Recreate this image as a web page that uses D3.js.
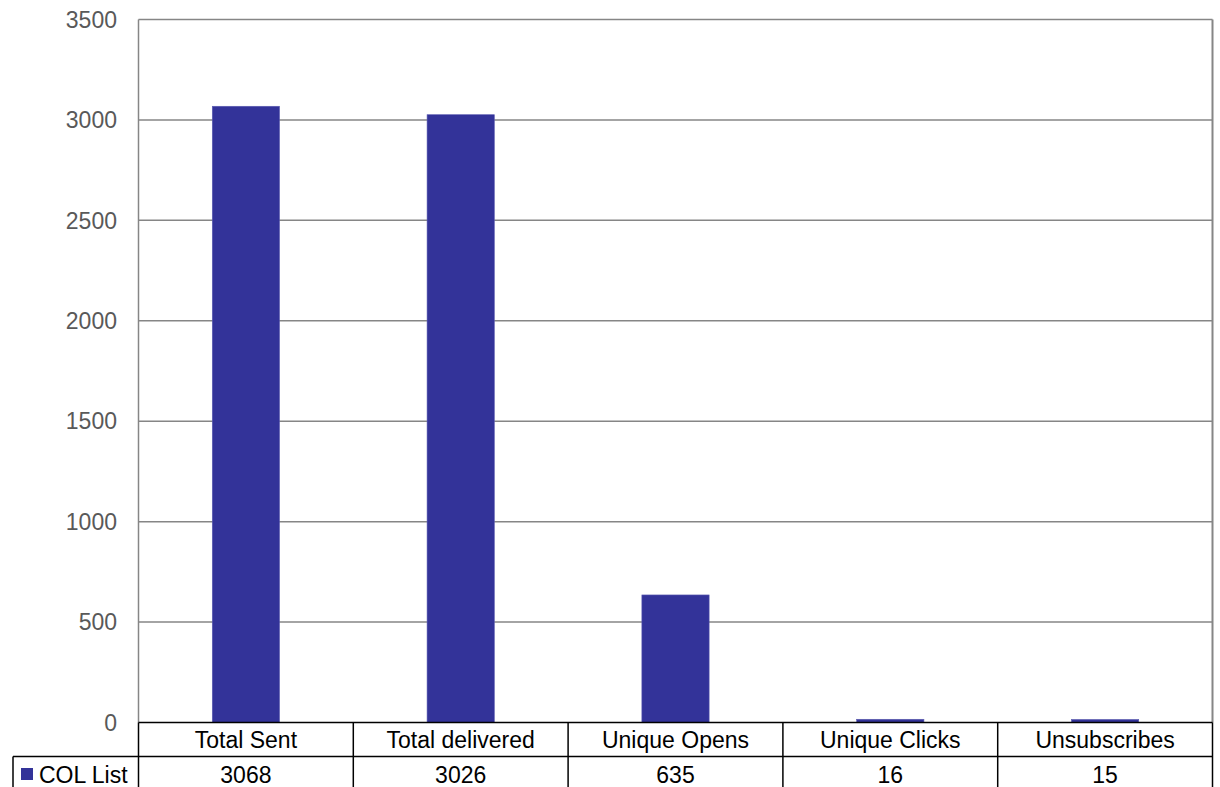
<!DOCTYPE html>
<html><head><meta charset="utf-8">
<script src="https://d3js.org/d3.v7.min.js"></script>
<style>body{margin:0;background:#fff;}svg{display:block;font-family:"Liberation Sans",Arial,sans-serif;}</style>
</head><body><svg id="c" width="1220" height="787"></svg>
<script>
const categories = ["Total Sent","Total delivered","Unique Opens","Unique Clicks","Unsubscribes"];
const values = [3068,3026,635,16,15];
const seriesName = "COL List";
const yTicks = [0,500,1000,1500,2000,2500,3000,3500];

const svg = d3.select("#c");
const L=138.5, R=1212.5, T=19.5, B=722.5;
const FS = 23;
const x = d3.scaleBand().domain(categories).range([L,R]).paddingInner(0).paddingOuter(0);
const y = d3.scaleLinear().domain([0,3500]).range([B,T]);
const barW = x.bandwidth()*0.313;

// gridlines
svg.append("g").selectAll("line").data(yTicks.filter(d=>d>0)).join("line")
  .attr("x1",L).attr("x2",R).attr("y1",d=>y(d)).attr("y2",d=>y(d))
  .attr("stroke","#868686").attr("stroke-width",1.5);
// plot frame left/right
svg.append("line").attr("x1",L).attr("x2",L).attr("y1",T).attr("y2",B).attr("stroke","#868686").attr("stroke-width",1.5);
svg.append("line").attr("x1",R).attr("x2",R).attr("y1",T).attr("y2",B).attr("stroke","#868686").attr("stroke-width",2);

// bars
svg.append("g").selectAll("rect").data(values).join("rect")
  .attr("x",(d,i)=>x(categories[i])+x.bandwidth()/2-barW/2)
  .attr("width",barW)
  .attr("y",d=>y(d)).attr("height",d=>B-y(d))
  .attr("fill","#333399").attr("stroke","#5a5ab0").attr("stroke-width",0.6);

// y axis labels
svg.append("g").selectAll("text").data(yTicks).join("text")
  .attr("x",117).attr("y",d=>y(d)).attr("dy","0.36em")
  .attr("text-anchor","end").attr("font-size",FS).attr("fill","#595959")
  .text(d=>d);

// data table
const row1T=722.5,row1B=756.5,row2B=800;
const tg = svg.append("g");
tg.append("line").attr("x1",L).attr("x2",R).attr("y1",row1T).attr("y2",row1T).attr("stroke","#000").attr("stroke-width",1.5);
tg.append("line").attr("x1",13).attr("x2",R).attr("y1",row1B).attr("y2",row1B).attr("stroke","#000").attr("stroke-width",1.5);
const edges = categories.map(c=>x(c)).concat([R]);
tg.selectAll("line.v").data(edges).join("line").attr("class","v")
  .attr("x1",d=>d).attr("x2",d=>d).attr("y1",row1T).attr("y2",row2B)
  .attr("stroke","#000").attr("stroke-width",1.5);
tg.append("line").attr("x1",13).attr("x2",13).attr("y1",row1B).attr("y2",row2B).attr("stroke","#000").attr("stroke-width",1.5);
tg.selectAll("text.cat").data(categories).join("text").attr("class","cat")
  .attr("x",d=>x(d)+x.bandwidth()/2).attr("y",740).attr("dy","0.36em")
  .attr("text-anchor","middle").attr("font-size",FS).attr("fill","#000").text(d=>d);
tg.selectAll("text.val").data(values).join("text").attr("class","val")
  .attr("x",(d,i)=>x(categories[i])+x.bandwidth()/2).attr("y",775).attr("dy","0.36em")
  .attr("text-anchor","middle").attr("font-size",FS).attr("fill","#000").text(d=>d);
// legend key
tg.append("rect").attr("x",21).attr("y",768).attr("width",12).attr("height",12).attr("fill","#333399");
tg.append("text").attr("x",39).attr("y",775).attr("dy","0.36em").attr("font-size",FS).attr("fill","#000").text(seriesName);
</script></body></html>
